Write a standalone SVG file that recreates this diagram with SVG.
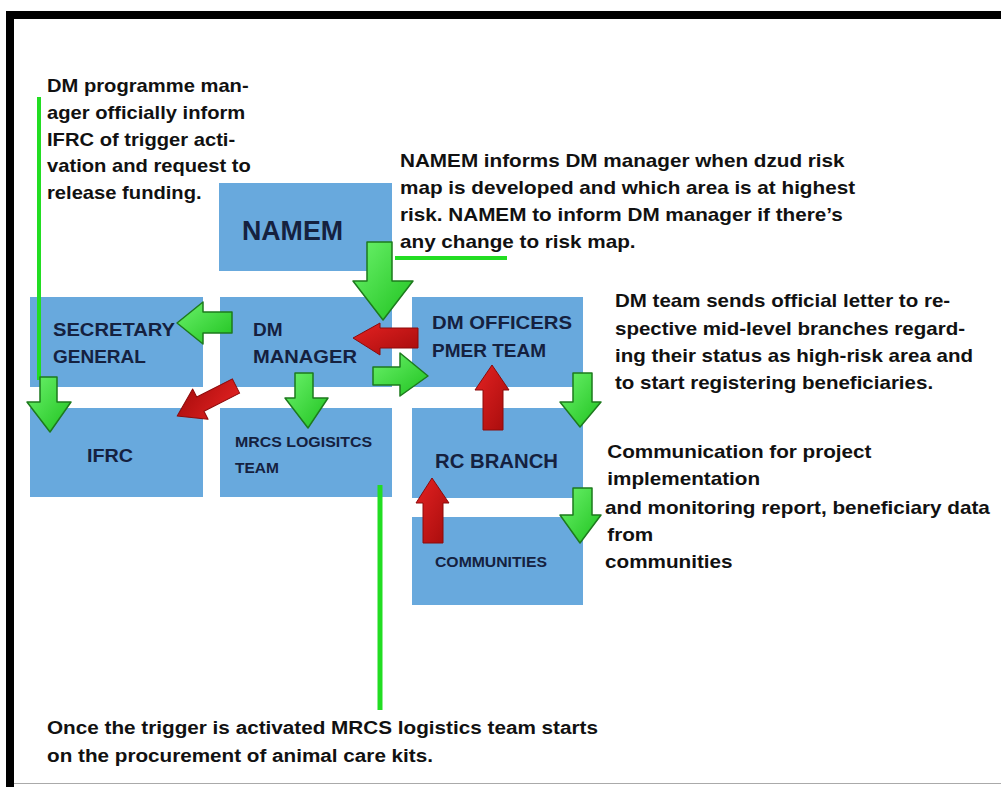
<svg xmlns="http://www.w3.org/2000/svg" width="1001" height="787" viewBox="0 0 1001 787">
  <style>
    .box { fill: #68a9dd; }
    .lbl { font-family: "Liberation Sans", Arial, sans-serif; font-weight: bold; fill: #15213f; }
    .note { font-family: "Liberation Sans", Arial, sans-serif; font-weight: bold; font-size: 18px; fill: #111; }
    .guide { stroke: #22dd22; fill: none; }
    .g-arrow { fill: url(#greenFill); stroke: #1d7a1d; stroke-width: 1.5; stroke-linejoin: round; }
    .r-arrow { fill: url(#redFill); stroke: #8c0a0a; stroke-width: 1; stroke-linejoin: round; }
  </style>
  <defs>
    <linearGradient id="greenFill" x1="0" y1="0" x2="1" y2="1">
      <stop offset="0" stop-color="#6cf26c"/>
      <stop offset="1" stop-color="#1fc21f"/>
    </linearGradient>
    <linearGradient id="redFill" x1="0" y1="0" x2="1" y2="1">
      <stop offset="0" stop-color="#e52222"/>
      <stop offset="1" stop-color="#a50c0c"/>
    </linearGradient>
  </defs>

  <!-- page background and frame -->
  <rect x="0" y="0" width="1001" height="787" fill="#ffffff"/>
  <rect x="6" y="11" width="995" height="8" fill="#000"/>
  <rect x="6" y="11" width="8" height="776" fill="#000"/>
  <line x1="14" y1="783.5" x2="1001" y2="783.5" stroke="#aaa" stroke-width="1"/>

  <!-- nodes -->
  <g id="namem">
    <rect class="box" x="219" y="183" width="173" height="88"/>
    <text class="lbl" x="242" y="240" font-size="27" textLength="101" lengthAdjust="spacingAndGlyphs">NAMEM</text>
  </g>
  <g id="secretary-general">
    <rect class="box" x="30" y="297" width="173" height="90"/>
    <text class="lbl" x="53" y="336" font-size="19" textLength="122" lengthAdjust="spacingAndGlyphs">SECRETARY</text>
    <text class="lbl" x="53" y="363" font-size="19">GENERAL</text>
  </g>
  <g id="dm-manager">
    <rect class="box" x="220" y="297" width="172" height="90"/>
    <text class="lbl" x="253" y="336" font-size="19">DM</text>
    <text class="lbl" x="253" y="363" font-size="19" textLength="104" lengthAdjust="spacingAndGlyphs">MANAGER</text>
  </g>
  <g id="ifrc">
    <rect class="box" x="30" y="408" width="173" height="89"/>
    <text class="lbl" x="87" y="462" font-size="19" textLength="46" lengthAdjust="spacingAndGlyphs">IFRC</text>
  </g>
  <g id="mrcs-logistics">
    <rect class="box" x="220" y="408" width="172" height="89"/>
    <text class="lbl" x="235" y="447" font-size="15.5" textLength="137" lengthAdjust="spacingAndGlyphs">MRCS LOGISITCS</text>
    <text class="lbl" x="235" y="473" font-size="15.5">TEAM</text>
  </g>
  <g id="dm-officers">
    <rect class="box" x="412" y="297" width="171" height="90"/>
    <text class="lbl" x="432" y="329" font-size="19" textLength="140" lengthAdjust="spacingAndGlyphs">DM OFFICERS</text>
    <text class="lbl" x="432" y="357" font-size="19">PMER TEAM</text>
  </g>
  <g id="rc-branch">
    <rect class="box" x="412" y="408" width="171" height="90"/>
    <text class="lbl" x="435" y="468" font-size="20" textLength="123" lengthAdjust="spacingAndGlyphs">RC BRANCH</text>
  </g>
  <g id="communities">
    <rect class="box" x="412" y="517" width="171" height="88"/>
    <text class="lbl" x="435" y="567" font-size="15.5" textLength="112" lengthAdjust="spacingAndGlyphs">COMMUNITIES</text>
  </g>

  <!-- connectors: callout lines and block arrows -->
  <g id="connectors">
    <line class="guide" x1="39" y1="97" x2="39" y2="380" stroke-width="4"/>
    <line class="guide" x1="395" y1="258" x2="507" y2="258" stroke-width="4"/>
    <line class="guide" x1="380" y1="485" x2="380" y2="710" stroke-width="5"/>

    <!-- NAMEM to DM manager -->
    <polygon class="g-arrow" points="367,242 392,242 392,281 413,281 383,320 353,281 367,281"/>
    <!-- DM manager to secretary general -->
    <polygon class="g-arrow" points="232,312 232,333 203,333 203,344 177,323 203,302 203,312"/>
    <!-- DM manager to IFRC -->
    <polygon class="r-arrow" transform="translate(236,386) rotate(153)" points="0,-8 40,-8 40,-17 66,0 40,17 40,8 0,8"/>
    <!-- secretary general to IFRC -->
    <polygon class="g-arrow" points="40,377 57,377 57,402 71,402 50,432 27,402 40,402"/>
    <!-- DM manager to MRCS logistics team -->
    <polygon class="g-arrow" points="295,373 313,373 313,398 328,398 308,428 285,398 295,398"/>
    <!-- DM officers to DM manager -->
    <polygon class="r-arrow" points="418,328 418,348 380,348 380,355 353,338 380,323 380,328"/>
    <!-- DM manager to DM officers -->
    <polygon class="g-arrow" points="373,367 400,367 400,353 428,376 400,396 400,385 373,385"/>
    <!-- RC branch to DM officers -->
    <polygon class="r-arrow" points="483,430 503,430 503,390 509,390 492,365 475,390 483,390"/>
    <!-- DM officers to RC branch -->
    <polygon class="g-arrow" points="573,373 592,373 592,402 601,402 580,427 560,402 573,402"/>
    <!-- communities to RC branch -->
    <polygon class="r-arrow" points="423,543 443,543 443,503 449,503 432,478 416,503 423,503"/>
    <!-- RC branch to communities -->
    <polygon class="g-arrow" points="573,488 592,488 592,515 601,515 580,543 560,515 573,515"/>
  </g>

  <!-- annotations (glyphs widened horizontally) -->
  <g id="note-ifrc" transform="translate(47,0) scale(1.12,1)">
    <text class="note" x="0" y="92">DM programme man-</text>
    <text class="note" x="0" y="119">ager officially inform</text>
    <text class="note" x="0" y="146">IFRC of trigger acti-</text>
    <text class="note" x="0" y="172">vation and request to</text>
    <text class="note" x="0" y="199">release funding.</text>
  </g>
  <g id="note-namem" transform="translate(400,0) scale(1.15,1)">
    <text class="note" x="0" y="167">NAMEM informs DM manager when dzud risk</text>
    <text class="note" x="0" y="194">map is developed and which area is at highest</text>
    <text class="note" x="0" y="221">risk. NAMEM to inform DM manager if there’s</text>
    <text class="note" x="0" y="248">any change to risk map.</text>
  </g>
  <g id="note-dm-team" transform="translate(615,0) scale(1.14,1)">
    <text class="note" x="0" y="307">DM team sends official letter to re-</text>
    <text class="note" x="0" y="335">spective mid-level branches regard-</text>
    <text class="note" x="0" y="362">ing their status as high-risk area and</text>
    <text class="note" x="0" y="389">to start registering beneficiaries.</text>
  </g>
  <g id="note-communication" transform="translate(605,0) scale(1.15,1)">
    <text class="note" x="2" y="458">Communication for project</text>
    <text class="note" x="2" y="485">implementation</text>
    <text class="note" x="0" y="514">and monitoring report, beneficiary data</text>
    <text class="note" x="2" y="541"> from</text>
    <text class="note" x="0" y="568">communities</text>
  </g>
  <g id="note-logistics">
    <text class="note" x="47" y="734" textLength="551" lengthAdjust="spacingAndGlyphs">Once the trigger is activated MRCS logistics team starts</text>
    <text class="note" x="47" y="762" textLength="386" lengthAdjust="spacingAndGlyphs">on the procurement of animal care kits.</text>
  </g>
</svg>
